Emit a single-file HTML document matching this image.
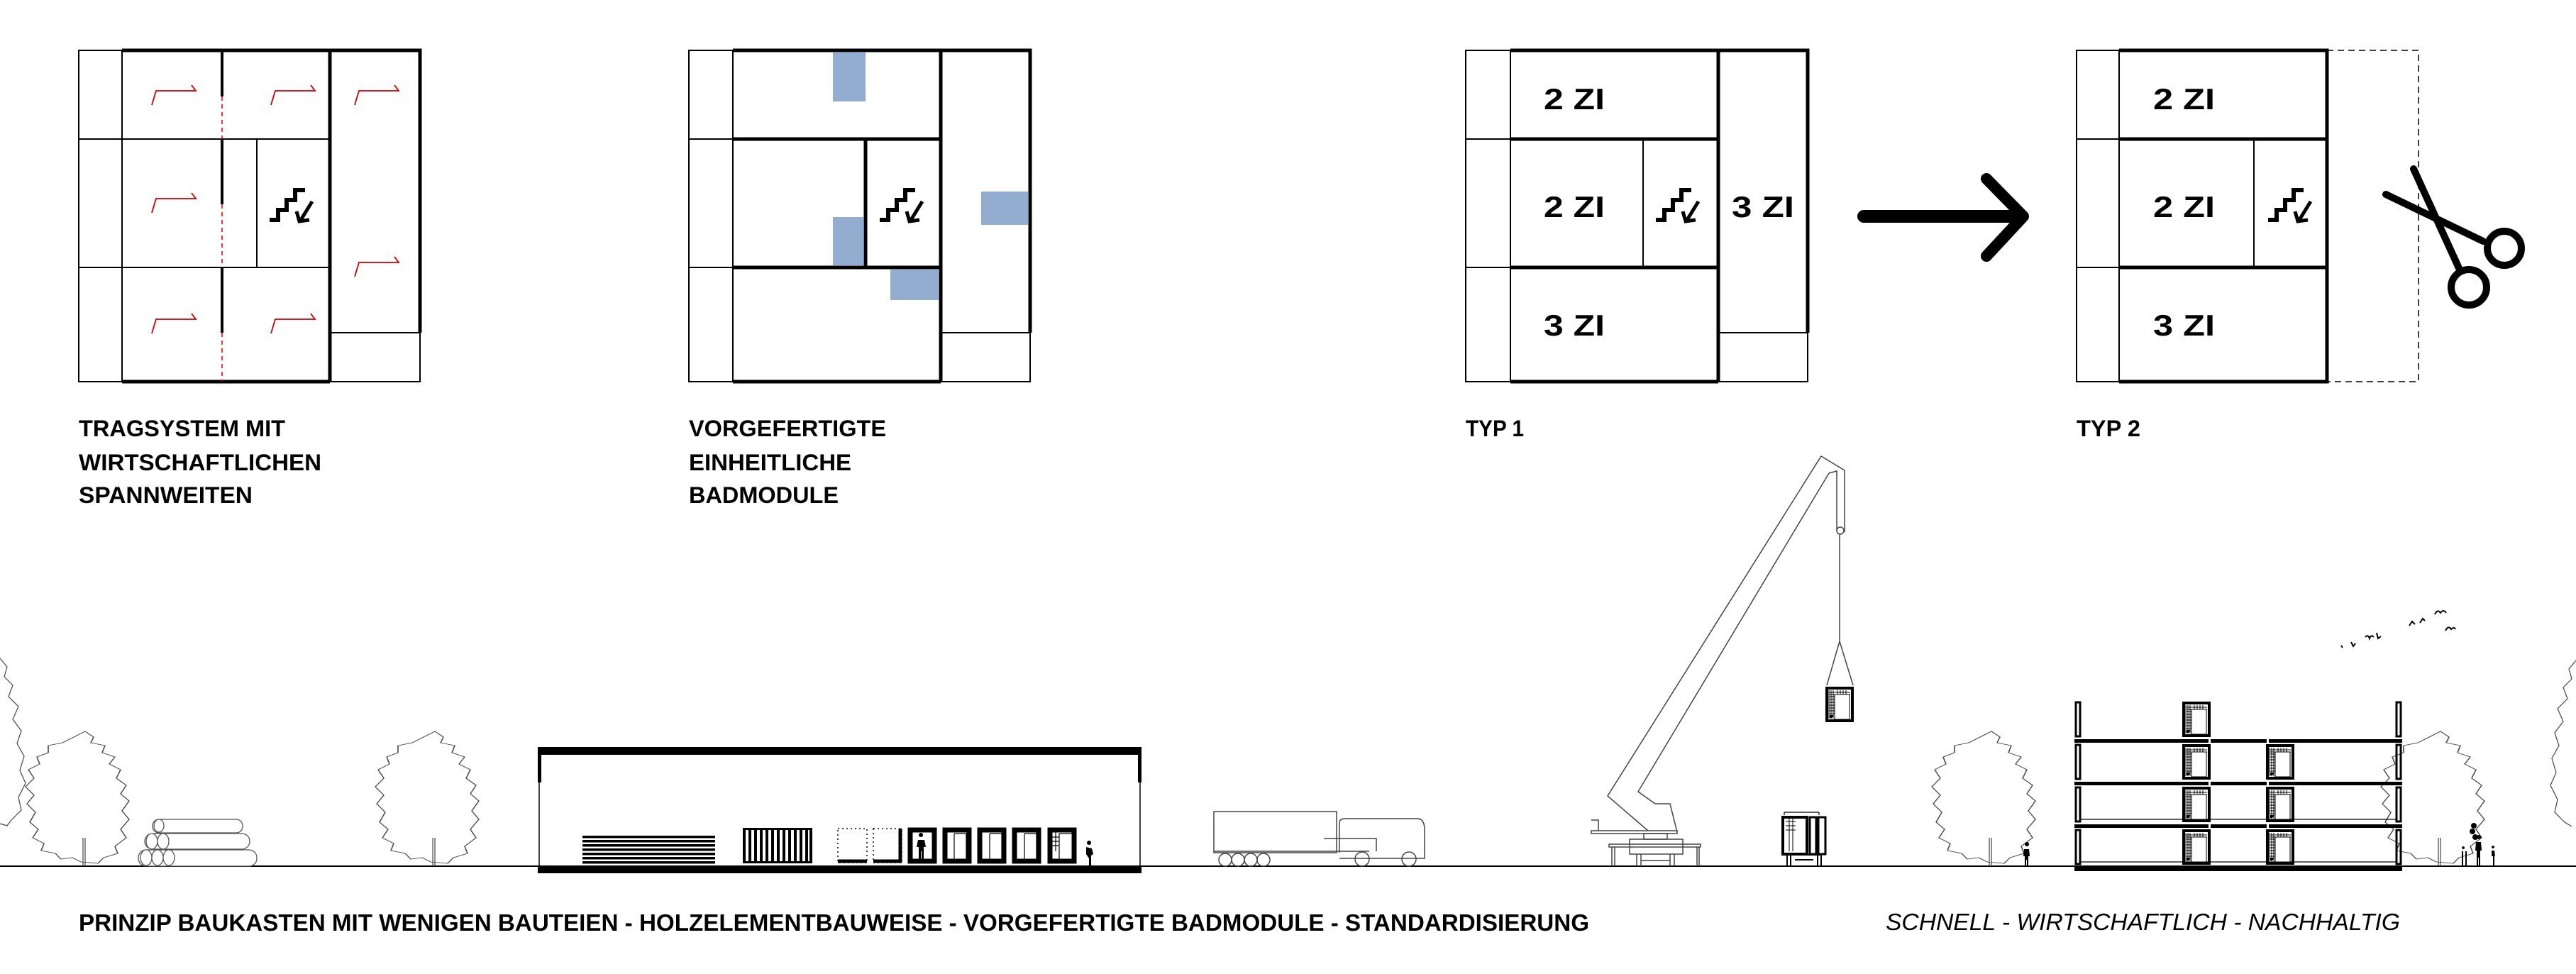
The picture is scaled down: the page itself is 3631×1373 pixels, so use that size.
<!DOCTYPE html>
<html><head><meta charset="utf-8"><style>
html,body{margin:0;padding:0;background:#fff}
svg{display:block}
.t{font-family:"Liberation Sans",sans-serif;font-weight:bold;fill:#000}
</style></head><body>
<svg width="3631" height="1373" viewBox="0 0 3631 1373" xmlns="http://www.w3.org/2000/svg">
<defs>
<g id="stair">
<path d="M0 50 h12 v-14 h12 v-14 h12 v-14 h14" fill="none" stroke="#000" stroke-width="6"/>
<path d="M60 24 L44 50" stroke="#000" stroke-width="5"/>
<path d="M38 38 L42 52 L56 50" fill="none" stroke="#000" stroke-width="5"/>
</g>
<g id="mod">
<rect x="2" y="2" width="36" height="46" fill="none" stroke="#000" stroke-width="4"/>
<path d="M5 5 v40 M8 5 v40 M11 5 v40 M5 8 h30 M5 11 h30 M5 14 h8 M5 18 h8 M5 22 h8 M5 26 h8 M5 30 h8 M5 34 h8 M5 38 h8 M17 5 v6 M21 5 v6 M25 5 v6 M29 5 v6" stroke="#000" stroke-width="1"/>
<rect x="13" y="11" width="21" height="35" fill="#fff" stroke="#000" stroke-width="1"/>
<path d="M6 40 h6 l-3 4 h-3z" fill="#000"/>
</g>
<g id="crown">
<path d="M0 -190 l6 8 l-2 8 l10 4 l-2 10 l9 6 l-4 10 l8 8 l-3 12 l7 10 l-4 12 l6 10 l-5 14 l5 12 l-6 14 l4 12 l-8 12 l2 10 l-10 6 l-4 8 l-12 -2 l-6 -6 l-8 2 l-4 -8 l-10 -4 l2 -10 l-8 -8 l4 -12 l-6 -10 l4 -14 l-6 -12 l5 -12 l-6 -12 l6 -12 l-4 -12 l8 -8 l-2 -10 l8 -6 l0 -10 l10 -4 z" fill="none" stroke="#444" stroke-width="0.8"/>
</g>
<g id="tree">
<use href="#crown" transform="scale(2,1)"/>
<path d="M0 -40 V0 M-3 -40 V0" stroke="#444" stroke-width="1.2"/>
</g>
</defs>

<!-- PLAN 1 -->
<g fill="none" stroke="#000">
<path d="M111 71 H172 V538 H111 Z M111 196 H465 M111 377 H465 M362 196 V377 M465 469 H592 V538 H465" stroke-width="2"/>
<path d="M172 71 H592 V469 M465 71 V538 M172 538 H465" stroke-width="5"/>
<path d="M313 73 V136 M313 196 V288 M313 377 V469" stroke-width="4"/>
<path d="M313 136 V196 M313 288 V377 M313 469 V538" stroke="#c00" stroke-width="1.5" stroke-dasharray="6 5"/>
</g>
<g fill="none" stroke="#c00" stroke-width="1.8">
<path id="ra" d="M214 148 L220 128 H276 L270 120" />
<use href="#ra" x="168" y="0"/><use href="#ra" x="286" y="0"/>
<use href="#ra" x="0" y="152"/>
<use href="#ra" x="286" y="242"/>
<use href="#ra" x="0" y="322"/><use href="#ra" x="168" y="322"/>
</g>
<use href="#stair" x="380" y="260"/>
<text class="t" x="111" y="615" font-size="32" textLength="291" lengthAdjust="spacingAndGlyphs">TRAGSYSTEM MIT</text>
<text class="t" x="111" y="663" font-size="32" textLength="342" lengthAdjust="spacingAndGlyphs">WIRTSCHAFTLICHEN</text>
<text class="t" x="111" y="709" font-size="32" textLength="245" lengthAdjust="spacingAndGlyphs">SPANNWEITEN</text>

<!-- PLAN 2 -->
<g fill="#7f9fc8" opacity="0.85">
<rect x="1174" y="74" width="46" height="69"/>
<rect x="1383" y="270" width="66" height="47"/>
<rect x="1174" y="306" width="43" height="68"/>
<rect x="1255" y="380" width="68" height="43"/>
</g>
<g fill="none" stroke="#000">
<path d="M971 71 H1033 V538 H971 Z M971 196 H1033 M971 377 H1033 M1326 469 H1452 V538 H1326" stroke-width="2"/>
<path d="M1033 71 H1452 V469 M1326 71 V538 M1033 538 H1326 M1033 196 H1326 M1033 377 H1326 M1220 196 V377" stroke-width="5"/>
</g>
<use href="#stair" x="1240" y="260"/>
<text class="t" x="971" y="615" font-size="32" textLength="278" lengthAdjust="spacingAndGlyphs">VORGEFERTIGTE</text>
<text class="t" x="971" y="663" font-size="32" textLength="229" lengthAdjust="spacingAndGlyphs">EINHEITLICHE</text>
<text class="t" x="971" y="709" font-size="32" textLength="211" lengthAdjust="spacingAndGlyphs">BADMODULE</text>

<!-- PLAN 3 -->
<g fill="none" stroke="#000">
<path d="M2066 71 H2129 V538 H2066 Z M2066 196 H2129 M2066 377 H2129 M2316 196 V377 M2422 469 H2548 V538 H2422" stroke-width="2"/>
<path d="M2129 71 H2548 V469 M2422 71 V538 M2129 538 H2422 M2129 196 H2422 M2129 377 H2422" stroke-width="5"/>
</g>
<use href="#stair" x="2334" y="260"/>
<g class="t" font-size="42">
<text x="2176" y="154" textLength="86" lengthAdjust="spacingAndGlyphs">2 ZI</text>
<text x="2176" y="306" textLength="86" lengthAdjust="spacingAndGlyphs">2 ZI</text>
<text x="2176" y="473" textLength="86" lengthAdjust="spacingAndGlyphs">3 ZI</text>
<text x="2441" y="306" textLength="88" lengthAdjust="spacingAndGlyphs">3 ZI</text>
</g>
<text class="t" x="2066" y="615" font-size="32" textLength="82" lengthAdjust="spacingAndGlyphs">TYP 1</text>

<!-- ARROW -->
<path d="M2627 305 H2850" stroke="#000" stroke-width="18" stroke-linecap="round"/>
<path d="M2800 252 L2852 305 L2800 361" fill="none" stroke="#000" stroke-width="16" stroke-linecap="round" stroke-linejoin="round"/>

<!-- PLAN 4 -->
<g fill="none" stroke="#000">
<path d="M2927 71 H2987 V538 H2927 Z M2927 196 H2987 M2927 377 H2987 M3177 196 V377" stroke-width="2"/>
<path d="M2987 71 H3280 V538 H2987 M2987 196 H3280 M2987 377 H3280" stroke-width="5"/>
<path d="M3280 71 H3409 V538 H3280" stroke-width="1.5" stroke-dasharray="9 6"/>
</g>
<use href="#stair" x="3197" y="260"/>
<g class="t" font-size="42">
<text x="3035" y="154" textLength="87" lengthAdjust="spacingAndGlyphs">2 ZI</text>
<text x="3035" y="306" textLength="87" lengthAdjust="spacingAndGlyphs">2 ZI</text>
<text x="3035" y="473" textLength="87" lengthAdjust="spacingAndGlyphs">3 ZI</text>
</g>
<text class="t" x="2927" y="615" font-size="32" textLength="90" lengthAdjust="spacingAndGlyphs">TYP 2</text>

<!-- SCISSORS -->
<g fill="none" stroke="#000" stroke-width="10" stroke-linecap="round">
<path d="M3402 238 L3466 378"/>
<path d="M3363 274 L3500 340"/>
<circle cx="3480" cy="405" r="25"/>
<circle cx="3530" cy="350" r="24"/>
</g>

<!-- GROUND -->
<path d="M0 1221 H3631" stroke="#000" stroke-width="2"/>

<!-- trees -->
<g transform="translate(0,1221)"><path d="M0 -293 l10 12 l-4 14 l12 12 l-6 16 l14 14 l-8 18 l12 16 l-6 18 l10 18 l-6 20 l8 18 l-10 20 l4 18 l-14 14 l-6 8 l-14 -4" fill="none" stroke="#444" stroke-width="1.2"/></g>
<use href="#tree" x="120" y="1221"/>
<use href="#tree" x="613" y="1221"/>
<use href="#tree" x="2807" y="1221"/>
<use href="#tree" x="3440" y="1221"/>
<g transform="translate(3631,1221)"><path d="M0 -290 l-10 12 l4 14 l-12 12 l6 16 l-14 14 l8 18 l-12 16 l6 18 l-10 18 l6 20 l-8 18 l10 20 l-4 18 l14 14 l10 6" fill="none" stroke="#444" stroke-width="1.2"/></g>

<!-- logs -->
<g fill="#fff" stroke="#555" stroke-width="1.3">
<rect x="195" y="1198" width="167" height="23" rx="11"/>
<ellipse cx="206" cy="1209" rx="8" ry="11"/><ellipse cx="222" cy="1209" rx="8" ry="11"/><ellipse cx="238" cy="1209" rx="8" ry="11"/>
<rect x="204" y="1175" width="148" height="22" rx="11"/>
<ellipse cx="214" cy="1186" rx="8" ry="11"/><ellipse cx="230" cy="1186" rx="8" ry="11"/>
<rect x="215" y="1155" width="127" height="19" rx="9"/>
<ellipse cx="224" cy="1164" rx="7" ry="9"/>
</g>

<!-- HALL -->
<rect x="758" y="1053" width="851" height="11" fill="#000"/>
<rect x="758" y="1053" width="5" height="50" fill="#000"/>
<rect x="1604" y="1053" width="5" height="50" fill="#000"/>
<path d="M760 1103 V1221 M1607 1103 V1221" stroke="#000" stroke-width="1.5"/>
<rect x="758" y="1221" width="851" height="10" fill="#000"/>
<g fill="#000">
<rect x="821" y="1178" width="187" height="3.5"/><rect x="821" y="1184" width="187" height="3.5"/><rect x="821" y="1190" width="187" height="3.5"/><rect x="821" y="1196" width="187" height="3.5"/><rect x="821" y="1202" width="187" height="3.5"/><rect x="821" y="1208" width="187" height="3.5"/><rect x="821" y="1214" width="187" height="3.5"/>
</g>
<g fill="#000">
<rect x="1047" y="1167" width="98" height="3"/><rect x="1047" y="1214" width="98" height="3"/>
<rect x="1047" y="1167" width="4" height="50"/><rect x="1055" y="1167" width="4" height="50"/><rect x="1063" y="1167" width="4" height="50"/><rect x="1071" y="1167" width="4" height="50"/><rect x="1079" y="1167" width="4" height="50"/><rect x="1087" y="1167" width="4" height="50"/><rect x="1095" y="1167" width="4" height="50"/><rect x="1103" y="1167" width="4" height="50"/><rect x="1111" y="1167" width="4" height="50"/><rect x="1119" y="1167" width="4" height="50"/><rect x="1127" y="1167" width="4" height="50"/><rect x="1135" y="1167" width="4" height="50"/><rect x="1141" y="1167" width="4" height="50"/>
</g>
<g fill="none" stroke="#000">
<rect x="1181" y="1168" width="41" height="48" stroke-width="1.5" stroke-dasharray="2 4"/>
<rect x="1231" y="1168" width="40" height="48" stroke-width="1.5" stroke-dasharray="2 4"/>
<path d="M1181 1214 H1222 M1231 1214 H1271 M1269 1168 V1216" stroke-width="5"/>
<rect x="1283" y="1170" width="34" height="44" stroke-width="7"/>
<rect x="1332" y="1170" width="34" height="44" stroke-width="7"/>
<rect x="1381" y="1170" width="34" height="44" stroke-width="7"/>
<rect x="1430" y="1170" width="34" height="44" stroke-width="7"/>
<rect x="1480" y="1170" width="34" height="44" stroke-width="7"/>
<path d="M1345 1175 H1362 V1212 M1345 1175 V1212 M1395 1175 H1412 V1212 M1395 1175 V1212 M1444 1175 H1461 V1212 M1444 1175 V1212 M1493 1175 H1512 V1212 M1493 1175 V1212 M1483 1180 H1493 M1483 1186 H1493 M1483 1192 H1493 M1488 1173 V1200" stroke-width="1.2"/>
</g>
<g fill="#000">
<path d="M1298 1180 a3 3 0 1 1 0.1 0 M1294 1184 h9 l2 10 h-3 v18 h-3 v-12 h-1 v12 h-3 v-18 h-3z"/>
<path d="M1535 1191 a3 3 0 1 1 0.1 0 M1531 1194 l8 2 l2 8 l-3 2 v14 h-3 v-10 l-4 -6z"/>
</g>

<!-- TRUCK -->
<g fill="none" stroke="#444" stroke-width="1.5">
<rect x="1711" y="1144" width="173" height="58"/>
<path d="M1711 1200 H1930"/>
<path d="M1888 1202 V1160 Q1888 1154 1896 1154 H1998 Q2008 1154 2008 1170 V1210 H1888"/>
<path d="M1866 1182 H1940 V1200"/>
<circle cx="1727" cy="1212" r="9"/><circle cx="1745" cy="1212" r="9"/><circle cx="1763" cy="1212" r="9"/><circle cx="1781" cy="1212" r="9"/>
<circle cx="1920" cy="1211" r="10"/><circle cx="1986" cy="1211" r="10"/>
</g>

<!-- CRANE -->
<g fill="none" stroke="#444" stroke-width="1.5">
<path d="M2567 643 L2266 1122 L2323 1171"/>
<path d="M2567 643 L2600 663 L2600 750"/>
<path d="M2578 667 L2309 1116 L2333 1133 L2354 1133 L2364 1173 M2578 667 L2589 664 L2589 748"/>
<circle cx="2594" cy="748" r="5"/>
<path d="M2593 753 V904 L2575 966 M2593 904 L2612 966"/>
<path d="M2243 1171 H2364 V1175 H2243 Z M2243 1156 H2253 V1171"/>
<rect x="2317" y="1175" width="33" height="8"/>
<rect x="2297" y="1183" width="75" height="21"/>
<rect x="2268" y="1190" width="129" height="4"/>
<path d="M2272 1194 V1221 M2276 1194 V1221 M2392 1194 V1221 M2395 1194 V1221"/>
<path d="M2307 1204 V1221 M2313 1204 V1221 M2354 1204 V1221 M2360 1204 V1221 M2313 1213 H2354"/>
</g>
<use href="#mod" x="2573" y="968"/>
<g>
<rect x="2513" y="1152" width="34" height="52" fill="none" stroke="#000" stroke-width="4"/>
<rect x="2551" y="1152" width="9" height="52" fill="none" stroke="#000" stroke-width="3"/>
<rect x="2563" y="1152" width="10" height="52" fill="none" stroke="#000" stroke-width="3"/>
<path d="M2515 1145 H2564 M2515 1145 v4 M2564 1145 v4" fill="none" stroke="#000" stroke-width="1.2"/>
<path d="M2519 1205 H2567 V1221 M2519 1205 V1221 M2524 1205 V1221 M2530 1212 H2556 M2562 1205 V1221" fill="none" stroke="#000" stroke-width="2"/>
<path d="M2517 1158 H2531 M2517 1164 H2531 M2517 1170 H2531 M2522 1154 V1200 M2527 1154 V1200" stroke="#000" stroke-width="1"/>
</g>

<!-- BUILDING -->
<g fill="#000">
<rect x="2924" y="1042" width="462" height="5"/>
<rect x="2924" y="1102" width="462" height="5"/>
<rect x="2924" y="1162" width="462" height="5"/>
<rect x="2924" y="1222" width="462" height="6"/>
<rect x="3113" y="1040" width="3" height="9" fill="#fff"/><rect x="3195" y="1040" width="3" height="9" fill="#fff"/>
<rect x="3113" y="1100" width="3" height="9" fill="#fff"/><rect x="3195" y="1100" width="3" height="9" fill="#fff"/>
<rect x="3113" y="1160" width="3" height="9" fill="#fff"/><rect x="3195" y="1160" width="3" height="9" fill="#fff"/>
</g>
<g fill="none" stroke="#000" stroke-width="3">
<rect x="2926" y="990" width="6" height="48"/><rect x="2926" y="1050" width="6" height="48"/><rect x="2926" y="1110" width="6" height="48"/><rect x="2926" y="1170" width="6" height="48"/>
<rect x="3378" y="990" width="6" height="48"/><rect x="3378" y="1050" width="6" height="48"/><rect x="3378" y="1110" width="6" height="48"/><rect x="3378" y="1170" width="6" height="48"/>
</g>
<path d="M2932 1155 H3378 M2932 1215 H3378" stroke="#000" stroke-width="1.2"/>
<use href="#mod" x="3076" y="989"/>
<use href="#mod" x="3076" y="1049"/><use href="#mod" x="3194" y="1049"/>
<use href="#mod" x="3076" y="1109"/><use href="#mod" x="3194" y="1109"/>
<use href="#mod" x="3076" y="1169"/><use href="#mod" x="3194" y="1169"/>

<!-- people -->
<g fill="#000">
<path d="M2857 1193 a3 3 0 1 1 0.1 0 M2853 1197 h7 l1 10 h-2 v14 h-2 v-9 h-1 v9 h-2 v-14 h-2z"/>
<path d="M3470 1200 h2 v21 h-2z M3475 1200 h2 v21 h-2z M3472 1197 a2 2 0 1 1 0.1 0"/>
<circle cx="3487" cy="1164" r="4"/><circle cx="3485" cy="1172" r="4"/><circle cx="3489" cy="1180" r="4"/>
<path d="M3494 1183 a3 3 0 1 1 0.1 0 M3490 1187 h7 l1 12 h-2 v22 h-2 v-12 h-1 v12 h-2 v-22 h-2z"/>
<path d="M3514 1196 a2 2 0 1 1 0.1 0 M3512 1199 h4 l1 8 h-1 v14 h-2 v-14 h-2z"/>
</g>
<!-- birds -->
<g fill="none" stroke="#000" stroke-width="2">
<path d="M3396 882 l4 -6 l4 4 M3411 878 l4 -6 l3 3"/>
<path d="M3334 898 q4 -4 6 2 q2 -6 6 -2"/>
<path d="M3350 892 l2 8 l4 -3"/>
<path d="M3314 905 l3 6 l3 -4 M3300 910 l2 3"/>
<path d="M3432 866 q4 -8 8 -2 q4 -6 8 0"/>
<path d="M3447 889 q4 -8 8 -2 q4 -4 6 0"/>
</g>

<!-- BOTTOM TEXT -->
<text class="t" x="111" y="1312" font-size="33" textLength="2129" lengthAdjust="spacingAndGlyphs">PRINZIP BAUKASTEN MIT WENIGEN BAUTEIEN - HOLZELEMENTBAUWEISE - VORGEFERTIGTE BADMODULE - STANDARDISIERUNG</text>
<text x="2658" y="1311" font-size="33" font-style="italic" font-family="Liberation Sans, sans-serif" fill="#000" textLength="725" lengthAdjust="spacingAndGlyphs">SCHNELL - WIRTSCHAFTLICH - NACHHALTIG</text>
</svg>
</body></html>
